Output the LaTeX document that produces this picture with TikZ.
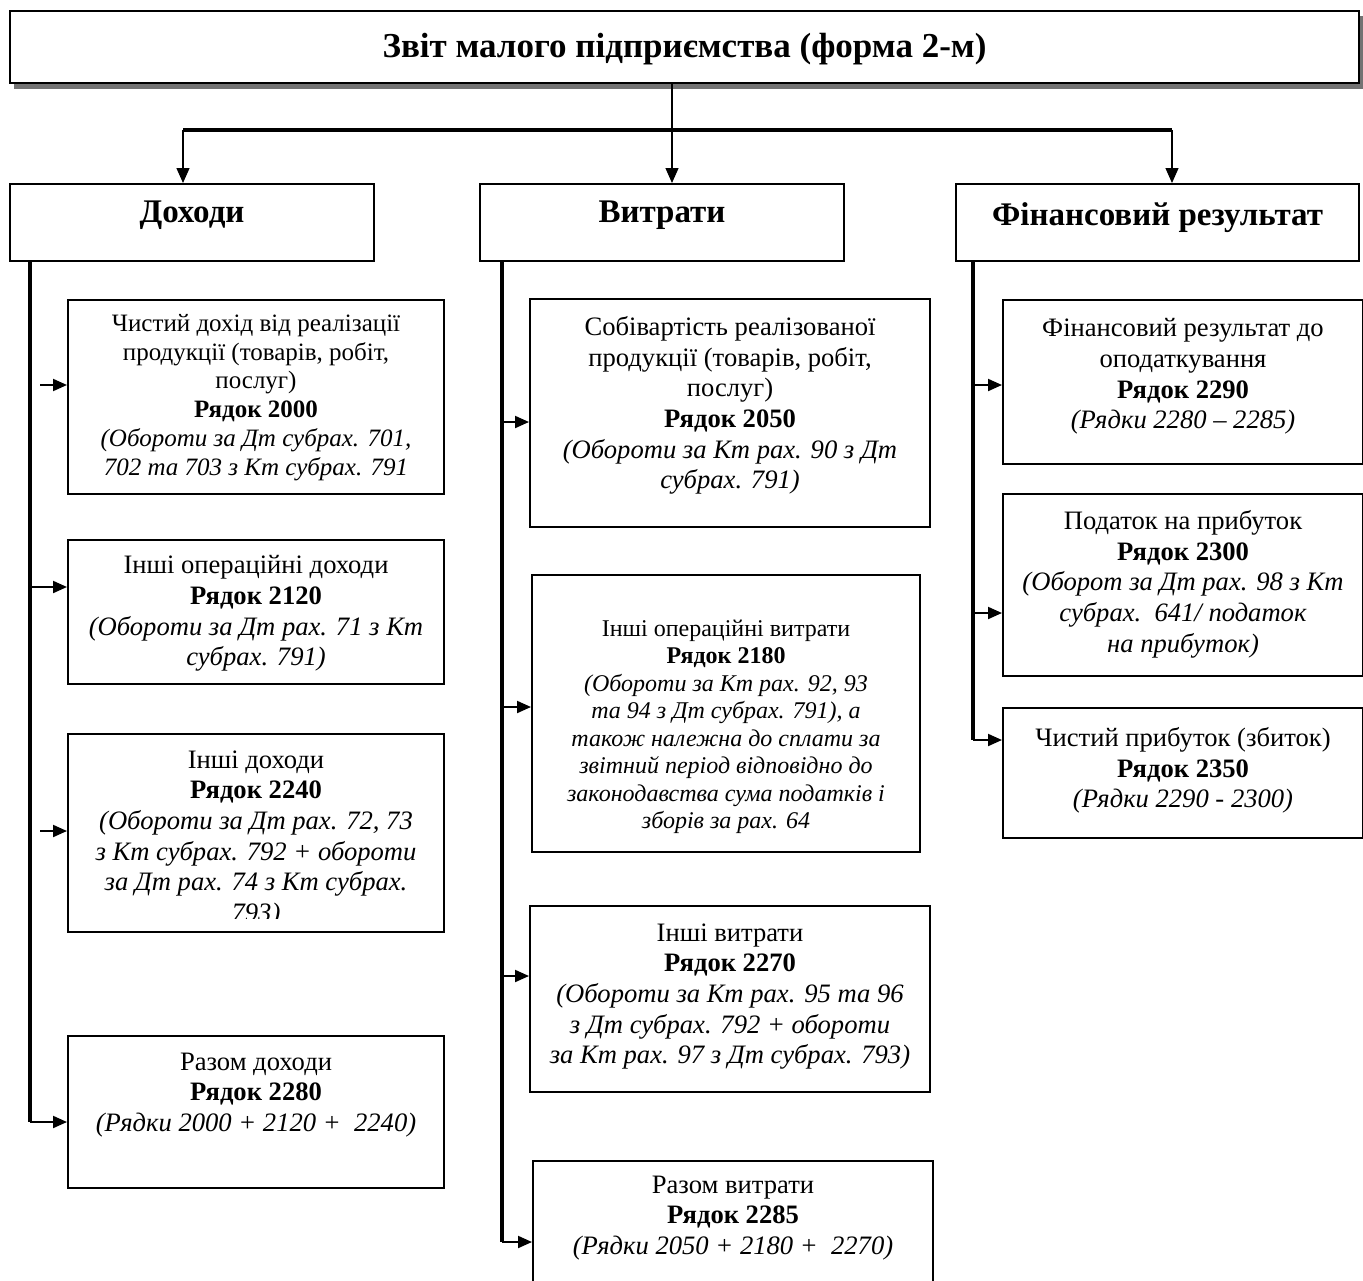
\documentclass[tikz,border=0pt]{standalone}
\usepackage{fontspec}
\setmainfont{Liberation Serif}
\usetikzlibrary{arrows.meta,calc}
\begin{document}
\begin{tikzpicture}[x=1pt,y=-1pt,
  boxnode/.style={draw=black, line width=2pt, fill=white, inner sep=0pt, anchor=north west},
  bodytext/.style={align=center, inner sep=0pt, anchor=north, font=\fontsize{26.6}{30.6}\selectfont},
  firsttext/.style={align=center, inner sep=0pt, anchor=north, font=\fontsize{25}{28.8}\selectfont},
  smalltext/.style={align=center, inner sep=0pt, anchor=north, font=\fontsize{24}{27.5}\selectfont},
  headtext/.style={inner sep=0pt, font=\fontsize{33}{38}\selectfont\bfseries},
  titletext/.style={inner sep=0pt, font=\fontsize{35}{40}\selectfont\bfseries},
  colline/.style={line width=3.2pt},
  thinline/.style={line width=1.3pt},
  stub/.style={line width=2pt, -{Triangle[length=14pt,width=12pt]}},
  droparrow/.style={line width=1.3pt, -{Triangle[length=15pt,width=13pt]}},
]
\useasboundingbox (0,0) rectangle (1363,1280);
\fill[white] (0,0) rectangle (1363,1280);
\begin{scope}
\clip (0,0) rectangle (1363,1280);

% title with shadow
\fill[black!55] (14,16) rectangle (1364,89);
\node[boxnode, minimum width=1349, minimum height=72] (top) at (9,10) {};
\node[titletext] (toptxt) at ($(top.center)+(0,2)$) {Звіт малого підприємства (форма 2-м)};

% headers
\node[boxnode, minimum width=364, minimum height=77] (hd) at (9,183) {};
\node[headtext] (hdt) at ($(hd.center)+(0,-7)$) {Доходи};
\node[boxnode, minimum width=364, minimum height=77] (hv) at (479,183) {};
\node[headtext] (hvt) at ($(hv.center)+(0,-7)$) {Витрати};
\node[boxnode, minimum width=403, minimum height=77] (hf) at (955,183) {};
\node[headtext] (hft) at ($(hf.center)+(0,-5)$) {Фінансовий результат};

% top connectors
\coordinate (jn) at (672,130);
\coordinate (jl) at (183,130);
\coordinate (jr) at (1172,130);
\draw[thinline] (top.south -| jn) -- (jn);
\draw[colline] (jl) -- (jr);
\draw[droparrow] (jl) -- (jl |- hd.north);
\draw[droparrow] (jn) -- (jn |- hv.north);
\draw[droparrow] (jr) -- (jr |- hf.north);

% ---------- Доходи column ----------
\node[boxnode, minimum width=376, minimum height=194] (b2000) at (67,299) {};
\node[firsttext] (t2000) at ($(b2000.north)+(0,15)$) {Чистий дохід від реалізації\\ продукції (товарів, робіт,\\ послуг)\\ \textbf{Рядок 2000}\\ \textit{(Обороти за Дт субрах. 701,}\\ \textit{702 та 703 з Кт субрах. 791}};

\node[boxnode, minimum width=376, minimum height=144] (b2120) at (67,539) {};
\node[bodytext] (t2120) at ($(b2120.north)+(0,16.5)$) {Інші операційні доходи\\ \textbf{Рядок 2120}\\ \textit{(Обороти за Дт рах. 71 з Кт}\\ \textit{субрах. 791)}};

\node[boxnode, minimum width=376, minimum height=198] (b2240) at (67,733) {};
\begin{scope}
\clip (b2240.north west) rectangle ($(b2240.south east)+(0,-15)$);
\node[bodytext] (t2240) at ($(b2240.north)+(0,17.5)$) {Інші доходи\\ \textbf{Рядок 2240}\\ \textit{(Обороти за Дт рах. 72, 73}\\ \textit{з Кт субрах. 792 + обороти}\\ \textit{за Дт рах. 74 з Кт субрах.}\\ \textit{793)}};
\end{scope}

\node[boxnode, minimum width=376, minimum height=152] (b2280) at (67,1035) {};
\node[bodytext] (t2280) at ($(b2280.north)+(0,17.5)$) {Разом доходи\\ \textbf{Рядок 2280}\\ \textit{(Рядки 2000 + 2120 +\ \ 2240)}};

\coordinate (dc) at (30,1122);
\draw[colline] (hd.south -| dc) -- (dc);
\coordinate (s2000) at (40,385);
\coordinate (s2120) at (30,587);
\coordinate (s2240) at (40,831);
\draw[stub] (s2000) -- (s2000 -| b2000.west);
\draw[stub] (s2120) -- (s2120 -| b2120.west);
\draw[stub] (s2240) -- (s2240 -| b2240.west);
\draw[stub] (dc) -- (dc -| b2280.west);

% ---------- Витрати column ----------
\node[boxnode, minimum width=400, minimum height=228] (b2050) at (529,298) {};
\node[bodytext] (t2050) at ($(b2050.north)+(0,18.5)$) {Собівартість реалізованої\\ продукції (товарів, робіт,\\ послуг)\\ \textbf{Рядок 2050}\\ \textit{(Обороти за Кт рах. 90 з Дт}\\ \textit{субрах. 791)}};

\node[boxnode, minimum width=388, minimum height=277] (b2180) at (531,574) {};
\node[smalltext] (t2180) at ($(b2180.north)+(0,45.5)$) {Інші операційні витрати\\ \textbf{Рядок 2180}\\ \textit{(Обороти за Кт рах. 92, 93}\\ \textit{та 94 з Дт субрах. 791), а}\\ \textit{також належна до сплати за}\\ \textit{звітний період відповідно до}\\ \textit{законодавства сума податків і}\\ \textit{зборів за рах. 64}};

\node[boxnode, minimum width=400, minimum height=186] (b2270) at (529,905) {};
\node[bodytext] (t2270) at ($(b2270.north)+(0,18.5)$) {Інші витрати\\ \textbf{Рядок 2270}\\ \textit{(Обороти за Кт рах. 95 та 96}\\ \textit{з Дт субрах. 792 + обороти}\\ \textit{за Кт рах. 97 з Дт субрах. 793)}};

\node[boxnode, minimum width=400, minimum height=140] (b2285) at (532,1160) {};
\node[bodytext] (t2285) at ($(b2285.north)+(0,15.5)$) {Разом витрати\\ \textbf{Рядок 2285}\\ \textit{(Рядки 2050 + 2180 +\ \ 2270)}};

\coordinate (vc) at (502,1242);
\draw[colline] (hv.south -| vc) -- (vc);
\coordinate (s2050) at (502,422);
\coordinate (s2180) at (502,707);
\coordinate (s2270) at (502,976);
\draw[stub] (s2050) -- (s2050 -| b2050.west);
\draw[stub] (s2180) -- (s2180 -| b2180.west);
\draw[stub] (s2270) -- (s2270 -| b2270.west);
\draw[stub] (vc) -- (vc -| b2285.west);

% ---------- Фінансовий результат column ----------
\node[boxnode, minimum width=360, minimum height=164] (b2290) at (1002,299) {};
\node[bodytext] (t2290) at ($(b2290.north)+(0,19.5)$) {Фінансовий результат до\\ оподаткування\\ \textbf{Рядок 2290}\\ \textit{(Рядки 2280 – 2285)}};

\node[boxnode, minimum width=360, minimum height=182] (b2300) at (1002,493) {};
\node[bodytext] (t2300) at ($(b2300.north)+(0,17.5)$) {Податок на прибуток\\ \textbf{Рядок 2300}\\ \textit{(Оборот за Дт рах. 98 з Кт}\\ \textit{субрах.\ \ 641/ податок}\\ \textit{на прибуток)}};

\node[boxnode, minimum width=360, minimum height=130] (b2350) at (1002,707) {};
\node[bodytext] (t2350) at ($(b2350.north)+(0,20.5)$) {Чистий прибуток (збиток)\\ \textbf{Рядок 2350}\\ \textit{(Рядки 2290 - 2300)}};

\coordinate (fc) at (973,740);
\draw[colline] (hf.south -| fc) -- (fc);
\coordinate (s2290) at (973,385);
\coordinate (s2300) at (973,613);
\draw[stub] (s2290) -- (s2290 -| b2290.west);
\draw[stub] (s2300) -- (s2300 -| b2300.west);
\draw[stub] (fc) -- (fc -| b2350.west);
\end{scope}
\end{tikzpicture}
\end{document}
